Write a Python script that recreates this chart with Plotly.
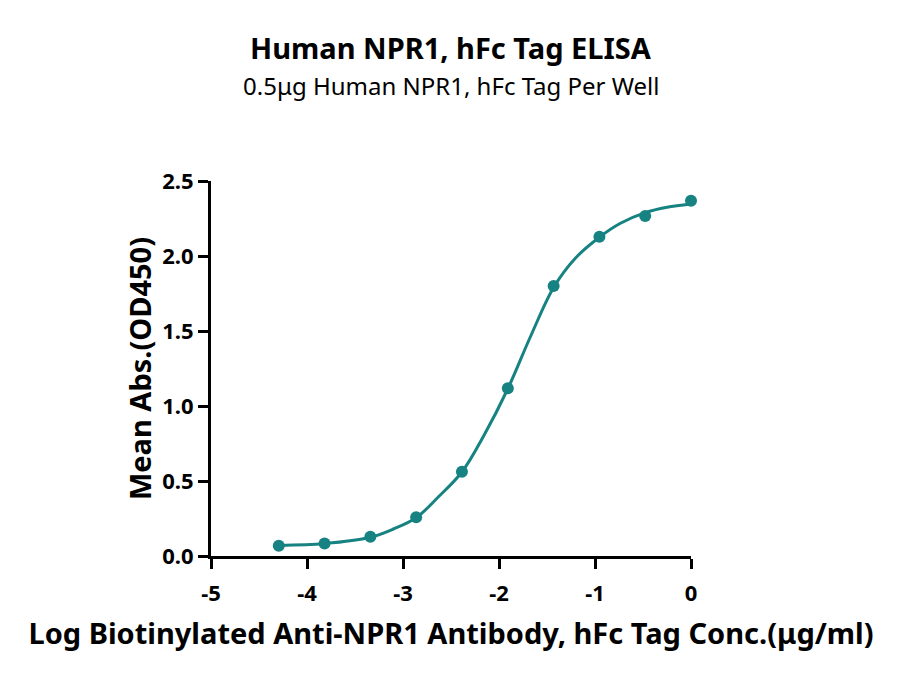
import plotly.graph_objects as go

# measured points (log conc, mean OD450)
log_conc = [-4.294, -3.817, -3.340, -2.863, -2.386, -1.908, -1.431, -0.954, -0.477, 0.0]
mean_abs = [0.069, 0.084, 0.129, 0.258, 0.562, 1.118, 1.800, 2.129, 2.267, 2.369]

# fitted curve
fit_x = [-4.294, -3.817, -3.34, -3.1, -2.863, -2.63, -2.386, -2.16, -1.908, -1.674, -1.431,
         -1.205, -0.954, -0.735, -0.477, -0.25, 0.0]
fit_y = [0.070, 0.083, 0.125, 0.180, 0.255, 0.395, 0.560, 0.800, 1.115, 1.460, 1.790,
         1.985, 2.125, 2.218, 2.289, 2.325, 2.347]

teal = "#168282"
font = "Noto Sans"

# page body has an 8px margin, so the figure is shifted by that much
ml, mt, pw, ph = 203, 173, 480, 375

fig = go.Figure()
fig.add_trace(go.Scatter(x=fit_x, y=fit_y, mode="lines", line=dict(color=teal, width=3, shape="spline"),
                         hoverinfo="skip", cliponaxis=False))
fig.add_trace(go.Scatter(x=log_conc, y=mean_abs, mode="markers", marker=dict(color=teal, size=12),
                         cliponaxis=False))


def py(pix):
    # page pixel row -> paper y
    return (mt + ph - (pix - 8)) / ph


fig.update_layout(
    width=900, height=681,
    margin=dict(l=ml, r=900 - ml - pw, t=mt, b=681 - mt - ph),
    paper_bgcolor="white", plot_bgcolor="white",
    showlegend=False,
    font=dict(family=font, color="black"),
    annotations=[
        dict(text="<b>Human NPR1, hFc Tag ELISA</b>", x=0.5, y=py(47), xref="paper", yref="paper",
             yanchor="middle", showarrow=False, font=dict(size=29)),
        dict(text="0.5μg Human NPR1, hFc Tag Per Well", x=0.5, y=py(86), xref="paper", yref="paper",
             yanchor="middle", showarrow=False, font=dict(size=24)),
    ],
)

fig.update_xaxes(
    range=[-5, 0], tickvals=[-5, -4, -3, -2, -1, 0], ticktext=["-5", "-4", "-3", "-2", "-1", "0"],
    showgrid=False, zeroline=False, showline=True, linecolor="black", linewidth=3,
    ticks="outside", ticklen=10, tickwidth=3, tickcolor="black", ticklabelstandoff=6,
    tickfont=dict(size=22, family=font, weight="bold"),
    title=dict(text="<b>Log Biotinylated Anti-NPR1 Antibody, hFc Tag Conc.(μg/ml)</b>",
               font=dict(size=29), standoff=18),
)
fig.update_yaxes(
    range=[0, 2.5], tickvals=[0, 0.5, 1.0, 1.5, 2.0, 2.5], ticktext=["0.0", "0.5", "1.0", "1.5", "2.0", "2.5"],
    showgrid=False, zeroline=False, showline=True, linecolor="black", linewidth=3,
    ticks="outside", ticklen=10, tickwidth=3, tickcolor="black",
    tickfont=dict(size=22, family=font, weight="bold"),
    title=dict(text="<b>Mean Abs.(OD450)</b>", font=dict(size=29), standoff=3),
)

fig.write_html("out.html")
